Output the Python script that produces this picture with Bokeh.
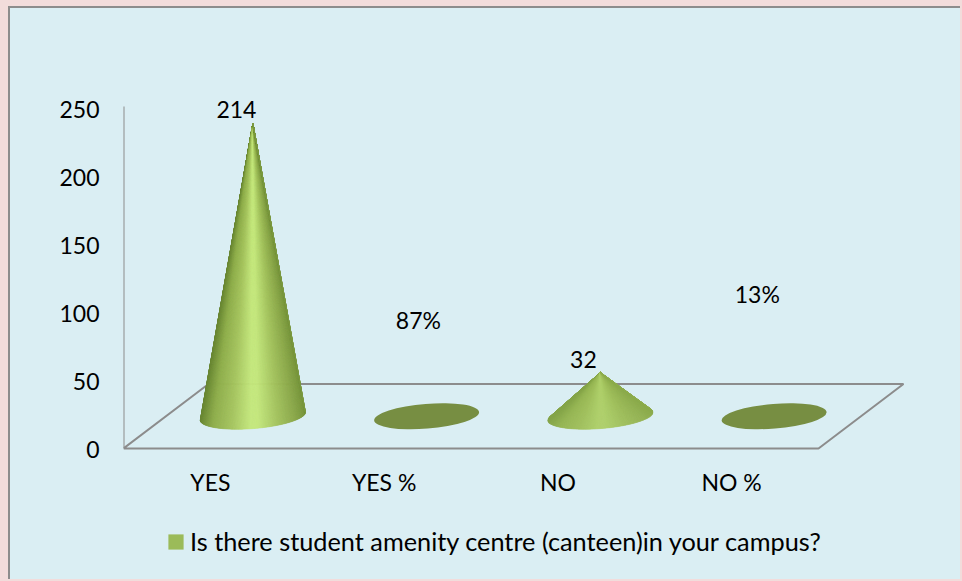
import numpy as np
from bokeh.embed import file_html
from bokeh.resources import INLINE
from bokeh.plotting import figure
from bokeh.layouts import column
from bokeh.models import Range1d, FixedTicker, Legend, LegendItem, LinearAxis
from bokeh.core.properties import value

# ---- data ----
categories = ["YES", "YES %", "NO", "NO %"]
values = [214, 0.87, 32, 0.13]
data_labels = ["214", "87%", "32", "13%"]
y_ticks = [0, 50, 100, 150, 200, 250]
legend_label = "Is there student amenity centre (canteen)in your campus?"

# ---- layout ----
W, H_MAIN, H_LEG = 952, 500, 73
LEFT = 113
FLOOR_Y = 440                    # canvas y of the front floor edge
DROP = 5                         # frame reaches this far below the floor edge
PX_X, PX_Y = 173.75, 1.368       # pixels per category, pixels per unit
DEPTH_X, DEPTH_Y = 85, 64.5      # floor depth in pixels
FONT = "Lato"
FS = "23px"
GREY = "#8c8c8c"
BG = "#daeef3"
PINK = "#f2dcdb"
BASE = "#9bbb59"

fw, fh = W - LEFT, FLOOR_Y + DROP
x_range = Range1d(-0.5, -0.5 + fw / PX_X)
y_range = Range1d(-DROP / PX_Y, FLOOR_Y / PX_Y)

p = figure(width=W, height=H_MAIN, x_range=x_range, y_range=y_range,
           output_backend="svg", toolbar_location=None,
           x_axis_location=None, y_axis_location=None,
           min_border_left=LEFT, min_border_bottom=H_MAIN - fh,
           min_border_top=0, min_border_right=0,
           background_fill_color=None, border_fill_color=None,
           outline_line_color=None,
           styles={"border-left": f"2px solid {GREY}", "border-top": f"2px solid {GREY}",
                   "background-color": BG})
p.grid.visible = False

# tick labels sit a little lower than the tick value on the walls
LAB_PX, LAB_SHIFT = 1.362, 1
p.extra_y_ranges = {"labels": Range1d((-DROP + LAB_SHIFT) / LAB_PX, (FLOOR_Y + LAB_SHIFT) / LAB_PX)}

yaxis = LinearAxis(ticker=FixedTicker(ticks=y_ticks), y_range_name="labels")
xaxis = LinearAxis(ticker=FixedTicker(ticks=list(range(len(categories)))),
                   major_label_overrides={i: c for i, c in enumerate(categories)})
for ax in (xaxis, yaxis):
    ax.axis_line_color = None
    ax.major_tick_line_color = None
    ax.minor_tick_line_color = None
    ax.major_tick_in = 0
    ax.major_tick_out = 0
    ax.major_label_text_font = FONT
    ax.major_label_text_font_size = FS
    ax.major_label_text_color = "#000000"
yaxis.major_label_standoff = 24
xaxis.major_label_standoff = 14
p.add_layout(yaxis, "left")
p.add_layout(xaxis, "below")

# value axis line and floor
n = len(categories)
dx, dy = DEPTH_X / PX_X, DEPTH_Y / PX_Y
p.line([-0.5, -0.5], [0, max(y_ticks)], line_color=GREY, line_width=2)
p.line([-0.5, n - 0.5, n - 0.5 + dx, -0.5 + dx, -0.5],
       [0, 0, dy, dy, 0], line_color=GREY, line_width=2)

# cones
A, B, TILT = 52.65, 12.3, np.radians(4.6)
ramp_u = [0, .12, .3, .48, .55, .75, .9, 1]
ramp_c = ["#6a8835", "#8fae4c", "#a5c45e", "#c4e77c", "#c4e77c", "#a2c15c", "#8cA94b", "#7a983f"]
ramp_rgb = np.array([[int(c[i:i + 2], 16) for i in (1, 3, 5)] for c in ramp_c], float)
base_rgb = np.array([0x9b, 0xbb, 0x59], float)


def col(u, k):
    rgb = np.array([np.interp(u, ramp_u, ramp_rgb[:, j]) for j in range(3)])
    rgb = rgb + (base_rgb - rgb) * k
    return "#%02x%02x%02x" % tuple(int(round(v)) for v in rgb)


theta = np.radians(np.linspace(-180, 180, 721))[:-1]
ex = A * np.cos(theta) * np.cos(TILT) - B * np.sin(theta) * np.sin(TILT)
ey = A * np.cos(theta) * np.sin(TILT) + B * np.sin(theta) * np.cos(TILT)

xs, ys, fills = [], [], []
flat_x, flat_y = [], []
for i, v in enumerate(values):
    cx, cy = i + dx / 2, dy / 2       # data position of base centre
    h = v * PX_Y                      # cone height in pixels
    if h < B * 1.2:
        flat_x.append(cx)
        flat_y.append(cy)
        continue
    # silhouette points: tangents from the tip, measured from straight down
    rel = np.arctan2(ex, h - ey)
    lo, hi = sorted((int(np.argmin(rel)), int(np.argmax(rel))))
    arc_a = np.arange(lo, hi + 1)
    arc_b = np.r_[hi:len(theta), 0:lo + 1]
    arc = arc_a if ey[arc_a].mean() < ey[arc_b].mean() else arc_b
    px, py = ex[arc], ey[arc]
    if px[0] > px[-1]:
        px, py = px[::-1], py[::-1]
    k = max(0.0, 0.7 * (1 - h / 200))
    step = 2
    for a in range(0, len(px) - step, step):
        b = a + step
        u = ((px[a] + px[b]) / 2 - px.min()) / (px.max() - px.min())
        xs.append([cx + px[a] / PX_X, cx + px[b] / PX_X, cx])
        ys.append([cy + py[a] / PX_Y, cy + py[b] / PX_Y, cy + v])
        fills.append(col(u, k))

p.patches(xs, ys, fill_color=fills, line_color=fills, line_width=0.6, line_join="round")
p.ellipse(flat_x, flat_y, width=2 * A, height=2 * B, angle=TILT,
          width_units="screen", height_units="screen", angle_units="rad",
          fill_color="#778e42", line_color=None)

# data labels (placed where the source chart has them)
p.text([0.15, 1.197, 2.147, 3.148], [247.5, 93.6, 65, 112.6], text=data_labels,
       text_font=value(FONT), text_font_size=value(FS), text_color="#000000",
       text_align="center", text_baseline="middle")

# legend strip below the chart
q = figure(width=W, height=H_LEG, x_range=Range1d(0, 1), y_range=Range1d(0, 1),
           output_backend="svg", toolbar_location=None,
           x_axis_location=None, y_axis_location=None,
           min_border=0, background_fill_color=None, border_fill_color=None,
           outline_line_color=None,
           styles={"border-left": f"2px solid {GREY}", "background-color": BG})
q.grid.visible = False
swatch = q.quad(left=[2], right=[3], top=[3], bottom=[2], fill_color=BASE, line_color=None)
legend = Legend(items=[LegendItem(label=legend_label, renderers=[swatch])],
                location=(43, 23), orientation="vertical",
                background_fill_alpha=0, border_line_color=None,
                glyph_width=19, glyph_height=19, label_standoff=5,
                label_text_font=FONT, label_text_font_size="25.3px", label_text_color="#000000",
                padding=0, margin=0)
q.add_layout(legend, "center")

template = """{% block postamble %}
<style>html,body{background:""" + PINK + """;margin:0;overflow:hidden}body{margin:6px 0 0 8px}</style>
{% endblock %}
"""
open("out.html", "w").write(file_html(column(p, q, spacing=0), INLINE, template=template))
